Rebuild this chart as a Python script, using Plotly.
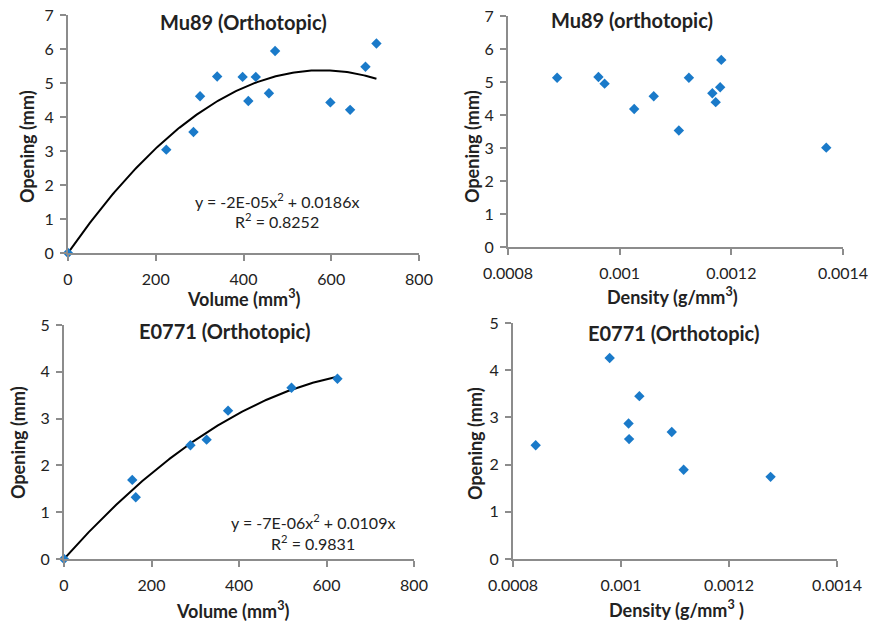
import numpy as np
import plotly.graph_objects as go

# ---- Data ----
mu89_volume = [0, 224, 286, 301, 340, 398, 411, 428, 458, 472, 598, 643, 678, 703]
mu89_open_v = [0, 3.04, 3.56, 4.61, 5.19, 5.18, 4.47, 5.18, 4.70, 5.94, 4.43, 4.21, 5.48, 6.16]

mu89_density = [0.000888, 0.000962, 0.000973, 0.001026, 0.001061, 0.001106,
                0.001124, 0.001166, 0.001172, 0.001180, 0.001182, 0.001370]
mu89_open_d = [5.13, 5.15, 4.95, 4.18, 4.57, 3.53, 5.13, 4.66, 4.39, 4.84, 5.67, 3.01]

e0771_volume = [0, 156, 164, 289, 326, 375, 520, 625]
e0771_open_v = [0, 1.69, 1.32, 2.43, 2.55, 3.17, 3.66, 3.85]

e0771_density = [0.000842, 0.000979, 0.001014, 0.001015, 0.001034, 0.001094, 0.001116, 0.001277]
e0771_open_d = [2.41, 4.26, 2.87, 2.54, 3.45, 2.69, 1.89, 1.74]

vol_ticks = [0, 200, 400, 600, 800]
dens_ticks = [0.0008, 0.001, 0.0012, 0.0014]
dens_ticktext = ["0.0008", "0.001", "0.0012", "0.0014"]

titles = ["Mu89 (Orthotopic)", "Mu89 (orthotopic)", "E0771 (Orthotopic)", "E0771 (Orthotopic)"]
x_titles = ["Volume (mm<sup>3</sup>)", "Density (g/mm<sup>3</sup>)",
            "Volume (mm<sup>3</sup>)", "Density (g/mm<sup>3</sup> )"]
y_title = "Opening (mm)"
eq_mu89 = ["y = -2E-05x<sup>2</sup> + 0.0186x", "R<sup>2</sup> = 0.8252"]
eq_e0771 = ["y = -7E-06x<sup>2</sup> + 0.0109x", "R<sup>2</sup> = 0.9831"]

FONT = "Lato, 'Open Sans', sans-serif"
BLUE = "#1a7ac9"
AXIS = "#8c8c8c"
TXT = "#222222"


def quad_fit(x, y):
    x = np.asarray(x, float)
    y = np.asarray(y, float)
    A = np.vstack([x ** 2, x]).T
    coef, *_ = np.linalg.lstsq(A, y, rcond=None)
    xs = np.linspace(0, x.max(), 200)
    return xs, coef[0] * xs ** 2 + coef[1] * xs


fig = go.Figure()

marker = dict(symbol="diamond", size=8, color=BLUE)

# Panel 1
xs, ys = quad_fit(mu89_volume, mu89_open_v)
fig.add_trace(go.Scatter(x=xs, y=ys, mode="lines", line=dict(color="black", width=2),
                         xaxis="x", yaxis="y", hoverinfo="skip"))
fig.add_trace(go.Scatter(x=mu89_volume, y=mu89_open_v, mode="markers", marker=marker,
                         xaxis="x", yaxis="y", cliponaxis=False))
# Panel 2
fig.add_trace(go.Scatter(x=mu89_density, y=mu89_open_d, mode="markers", marker=marker,
                         xaxis="x2", yaxis="y2"))
# Panel 3
xs, ys = quad_fit(e0771_volume, e0771_open_v)
fig.add_trace(go.Scatter(x=xs, y=ys, mode="lines", line=dict(color="black", width=2),
                         xaxis="x3", yaxis="y3", hoverinfo="skip"))
fig.add_trace(go.Scatter(x=e0771_volume, y=e0771_open_v, mode="markers", marker=marker,
                         xaxis="x3", yaxis="y3", cliponaxis=False))
# Panel 4
fig.add_trace(go.Scatter(x=e0771_density, y=e0771_open_d, mode="markers", marker=marker,
                         xaxis="x4", yaxis="y4"))

W, H = 871, 623


def dx(a, b):
    return [a / W, b / W]


def dy(top, bottom):
    return [1 - bottom / H, 1 - top / H]


common_ax = dict(showgrid=False, zeroline=False, showline=True, linecolor=AXIS, linewidth=2,
                 ticks="outside", tickcolor=AXIS, ticklen=6, tickwidth=2, automargin=False,
                 ticklabeloverflow="allow",
                 tickfont=dict(family=FONT, size=16, color=TXT))
xax = dict(common_ax, ticklabelstandoff=5)
yax = dict(common_ax, ticklabelstandoff=3)

layout_axes = {
    "xaxis": dict(domain=dx(68, 419), range=[0, 800], tickvals=vol_ticks, anchor="y", **xax),
    "yaxis": dict(domain=dy(15, 253), range=[0, 7], dtick=1, anchor="x", **yax),
    "xaxis2": dict(domain=dx(508, 843), range=[0.0008, 0.0014], tickvals=dens_ticks,
                   ticktext=dens_ticktext, anchor="y2", **xax),
    "yaxis2": dict(domain=dy(16, 247), range=[0, 7], dtick=1, anchor="x2", **yax),
    "xaxis3": dict(domain=dx(64, 414), range=[0, 800], tickvals=vol_ticks, anchor="y3", **xax),
    "yaxis3": dict(domain=dy(325, 559), range=[0, 5], dtick=1, anchor="x3", **yax),
    "xaxis4": dict(domain=dx(513, 837), range=[0.0008, 0.0014], tickvals=dens_ticks,
                   ticktext=dens_ticktext, anchor="y4", **xax),
    "yaxis4": dict(domain=dy(323, 559), range=[0, 5], dtick=1, anchor="x4", **yax),
}


def ann(text, px, py, size, bold=False, angle=0):
    f = dict(family=FONT, size=size, color=TXT)
    if bold:
        f["weight"] = "bold"
    return dict(text=text, x=px / W, y=1 - py / H, xref="paper", yref="paper",
                showarrow=False, xanchor="center", yanchor="middle", textangle=angle, font=f)


annotations = []
title_pos = [(243, 22), (632, 20), (225, 331), (673, 333)]
for t, (px, py) in zip(titles, title_pos):
    annotations.append(ann(t, px, py, 20, bold=True))

xt_pos = [(243, 298), (672, 296), (232, 610), (676, 609)]
for t, (px, py) in zip(x_titles, xt_pos):
    annotations.append(ann(t, px, py, 18, bold=True))

yt_pos = [(27, 147), (472, 147), (18, 443), (475, 443)]
for (px, py) in yt_pos:
    annotations.append(ann(y_title, px, py, 18, bold=True, angle=-90))

for lines, (px, py1, py2) in [(eq_mu89, (277, 200, 220)), (eq_e0771, (313, 521, 542))]:
    for txt, py in zip(lines, (py1, py2)):
        annotations.append(ann(txt, px, py, 16))

fig.update_layout(
    width=W, height=H,
    margin=dict(l=0, r=0, t=0, b=0),
    paper_bgcolor="white", plot_bgcolor="white",
    showlegend=False,
    annotations=annotations,
    **layout_axes,
)

fig.write_html("out.html", config={"displayModeBar": False},
               post_script="document.body.style.margin='0';")
